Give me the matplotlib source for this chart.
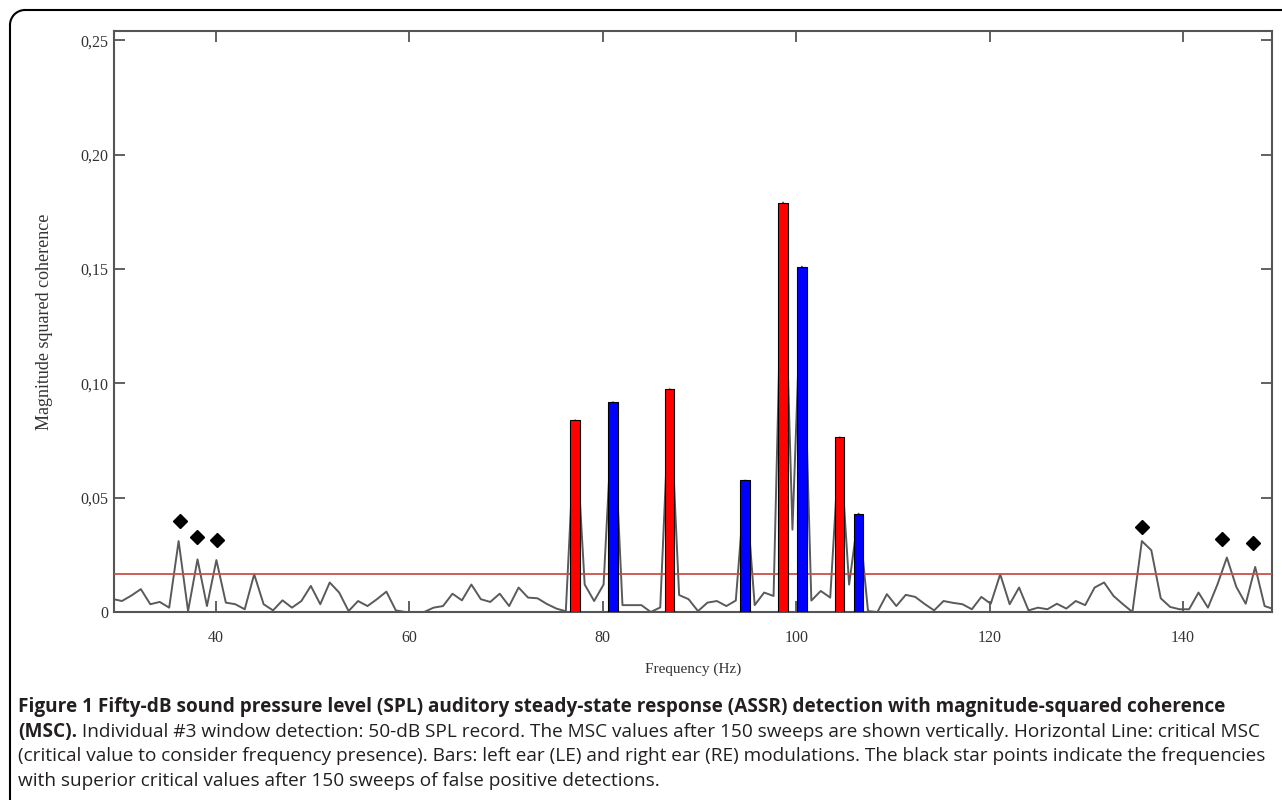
import numpy as np
from matplotlib import pyplot as plt
from matplotlib.patches import Arc
from matplotlib.lines import Line2D

# MSC spectrum, one value per FFT bin (fs = 1000 Hz, 1024 points)
freq_res = 1000 / 1024
first_bin = 30
msc = [0.0057, 0.0048, 0.0072, 0.0100, 0.0034, 0.0044, 0.0019, 0.0310, 0.0004, 0.0230,
       0.0026, 0.0227, 0.0041, 0.0034, 0.0012, 0.0165, 0.0034, 0.0007, 0.0051, 0.0019,
       0.0048, 0.0114, 0.0034, 0.0129, 0.0085, 0.0004, 0.0048, 0.0026, 0.0056, 0.0089,
       0.0007, 0.0000, 0.0000, 0.0000, 0.0019, 0.0026, 0.0080, 0.0051, 0.0120, 0.0056,
       0.0044, 0.0080, 0.0026, 0.0107, 0.0063, 0.0060, 0.0035, 0.0015, 0.0003, 0.0838,
       0.0120, 0.0048, 0.0120, 0.0917, 0.0030, 0.0030, 0.0030, 0.0000, 0.0020, 0.0974,
       0.0074, 0.0056, 0.0004, 0.0041, 0.0048, 0.0026, 0.0050, 0.0575, 0.0030, 0.0085,
       0.0070, 0.1790, 0.0360, 0.1510, 0.0050, 0.0092, 0.0063, 0.0763, 0.0120, 0.0430,
       0.0004, 0.0000, 0.0078, 0.0026, 0.0075, 0.0066, 0.0035, 0.0007, 0.0048, 0.0040,
       0.0034, 0.0012, 0.0066, 0.0036, 0.0165, 0.0034, 0.0107, 0.0007, 0.0019, 0.0012,
       0.0036, 0.0015, 0.0048, 0.0030, 0.0107, 0.0129, 0.0070, 0.0034, 0.0000, 0.0310,
       0.0270, 0.0060, 0.0022, 0.0012, 0.0012, 0.0085, 0.0019, 0.0120, 0.0238, 0.0110,
       0.0036, 0.0197, 0.0026, 0.0012]
freq = (first_bin + np.arange(len(msc))) * freq_res

# modulation frequencies (bars)
le_freq = [77.15, 86.91, 98.63, 104.49]
le_msc = [0.0838, 0.0974, 0.1790, 0.0763]
re_freq = [81.05, 94.73, 100.59, 106.45]
re_msc = [0.0917, 0.0575, 0.1510, 0.0430]

# false positives above critical value
star_freq = [36.3, 38.0, 40.1, 135.8, 144.0, 147.2]
star_msc = [0.0400, 0.0330, 0.0315, 0.0370, 0.0320, 0.0300]

critical_msc = 0.0168

xticks = [40, 60, 80, 100, 120, 140]
yticks = [0, 0.05, 0.10, 0.15, 0.20, 0.25]
ytick_labels = ["0", "0,05", "0,10", "0,15", "0,20", "0,25"]

W, H = 1282, 800
fig = plt.figure(figsize=(W / 100, H / 100), dpi=100)

# rounded frame (top-left corner only, the rest runs off the page)
r = 15
fig.add_artist(Line2D([10, 10], [-5, H - 10 - r], transform=None, color="black", linewidth=1.5))
fig.add_artist(Line2D([10 + r, W + 5], [H - 10, H - 10], transform=None, color="black", linewidth=1.5))
fig.add_artist(Arc((10 + r, H - 10 - r), 2 * r, 2 * r, theta1=90, theta2=180,
                   transform=None, color="black", linewidth=1.5))

ax = fig.add_axes([114 / W, 1 - 612 / H, (1272 - 114) / W, (612 - 31) / H])

ax.plot(freq, msc, color="#5a5a5a", linewidth=1.4, zorder=2)
ax.axhline(critical_msc, color="#c8504a", linewidth=1.3, zorder=3)
ax.bar(le_freq, le_msc, width=1.0, color="#ff0000", edgecolor="black", linewidth=0.8, zorder=4)
ax.bar(re_freq, re_msc, width=1.0, color="#0000ff", edgecolor="black", linewidth=0.8, zorder=4)
ax.plot(star_freq, star_msc, linestyle="none", marker="D", markersize=7,
        color="black", zorder=5)

ax.set_xlim(29.45, 149.2)
ax.set_ylim(0, 0.254)
ax.set_xticks(xticks)
ax.set_yticks(yticks)
ax.set_yticklabels(ytick_labels)

serif = "Liberation Serif"
for lab in ax.get_xticklabels() + ax.get_yticklabels():
    lab.set_fontfamily(serif)
    lab.set_fontsize(11.5)
    lab.set_color("#333333")

ax.tick_params(direction="in", length=8, width=1.3, top=True, right=True,
               color="#555555")
ax.tick_params(axis="x", pad=13)
ax.tick_params(axis="y", pad=4)
for s in ax.spines.values():
    s.set_color("#555555")
    s.set_linewidth(1.5)

ax.set_xlabel("Frequency (Hz)", fontfamily=serif, fontsize=11, color="#333333", labelpad=12)
ax.set_ylabel("Magnitude squared coherence", fontfamily=serif, fontsize=13,
              color="#333333", labelpad=20)

# caption
cap_font = "Open Sans"
cap_size = 13.7
cap_color = "#231f20"
x0 = 18 / W
line_y = [712, 737, 761, 786]
fig.text(x0, 1 - line_y[0] / H,
         "Figure 1 Fifty-dB sound pressure level (SPL) auditory steady-state response "
         "(ASSR) detection with magnitude-squared coherence",
         fontfamily=cap_font, fontsize=cap_size, fontweight="bold", color=cap_color,
         va="baseline")
t_bold = fig.text(x0, 1 - line_y[1] / H, "(MSC).", fontfamily=cap_font,
                  fontsize=cap_size, fontweight="bold", color=cap_color, va="baseline")
fig.canvas.draw()
bb = t_bold.get_window_extent()
fig.text(bb.x1 / fig.bbox.width, 1 - line_y[1] / H,
         " Individual #3 window detection: 50-dB SPL record. The MSC values after 150 "
         "sweeps are shown vertically. Horizontal Line: critical MSC",
         fontfamily=cap_font, fontsize=cap_size, color=cap_color, va="baseline")
fig.text(x0, 1 - line_y[2] / H,
         "(critical value to consider frequency presence). Bars: left ear (LE) and right "
         "ear (RE) modulations. The black star points indicate the frequencies",
         fontfamily=cap_font, fontsize=cap_size, color=cap_color, va="baseline")
fig.text(x0, 1 - line_y[3] / H,
         "with superior critical values after 150 sweeps of false positive detections.",
         fontfamily=cap_font, fontsize=cap_size, color=cap_color, va="baseline")

plt.savefig("out.png", dpi=100)
